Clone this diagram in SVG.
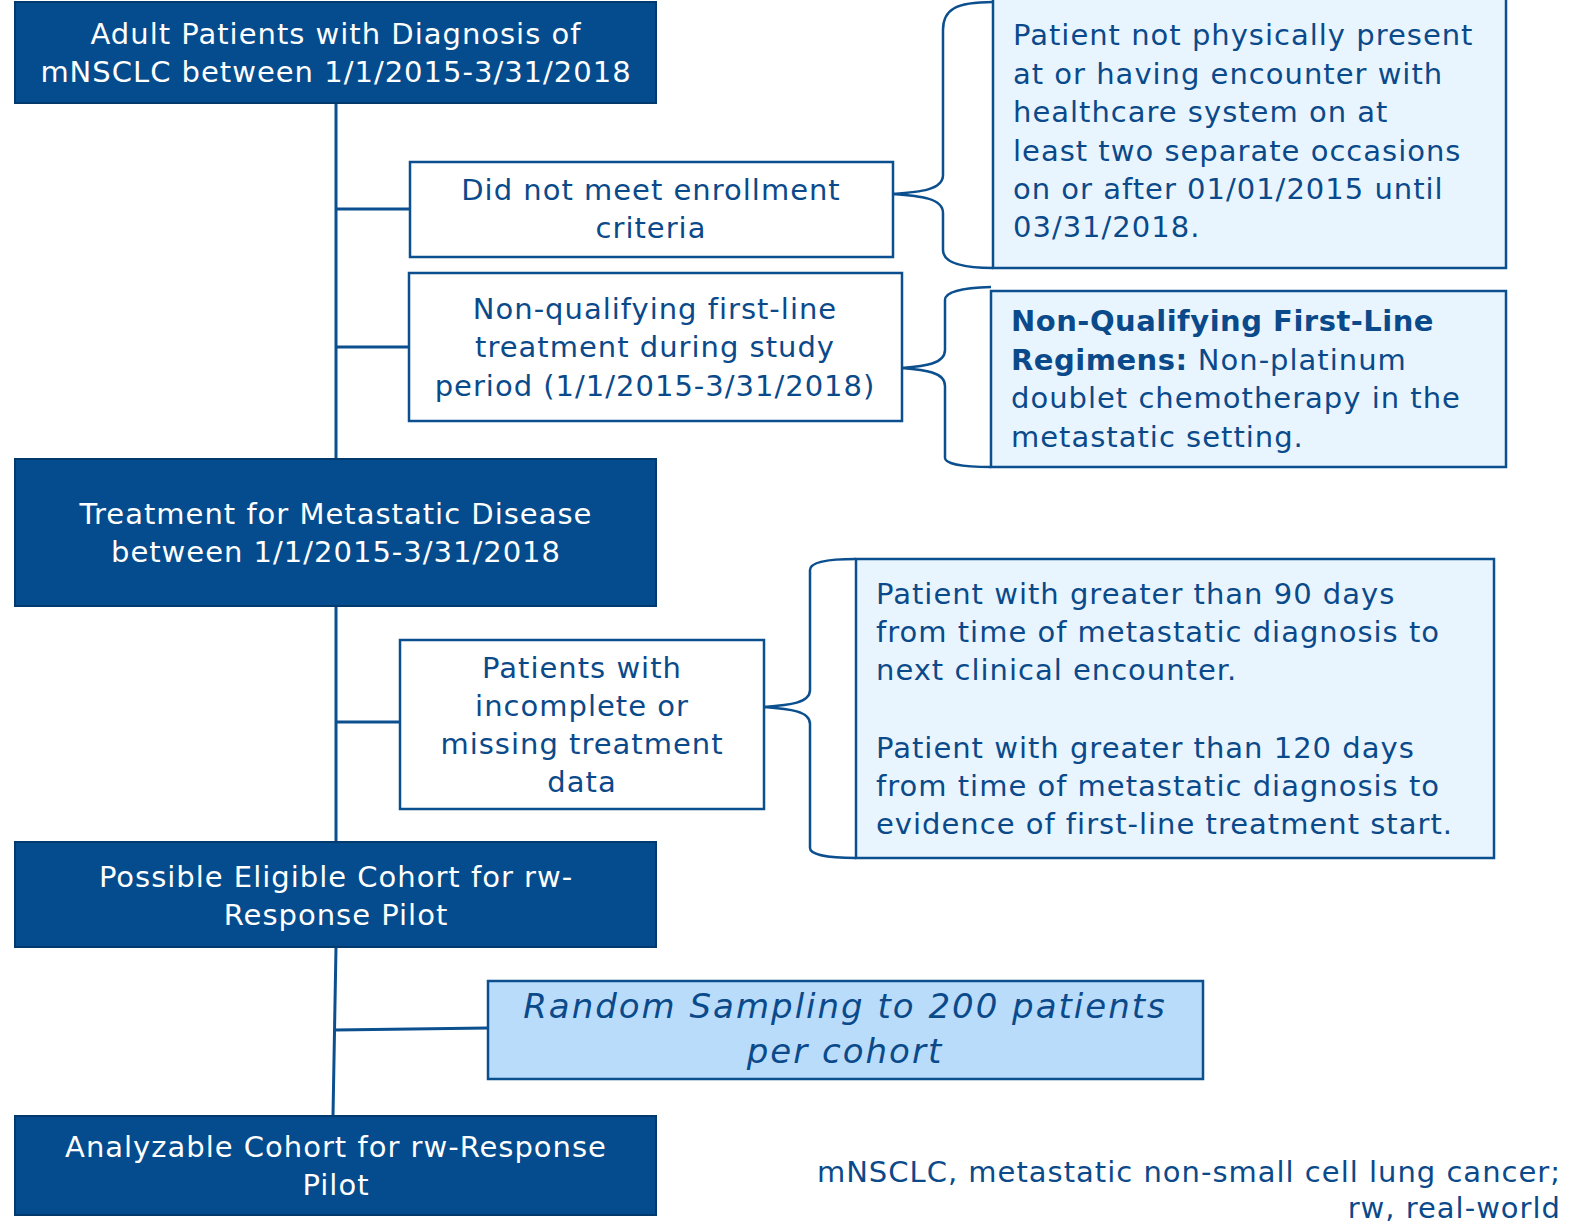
<svg xmlns="http://www.w3.org/2000/svg" width="1571" height="1229" viewBox="0 0 1571 1229">
<style>
.dark{fill:#044c8e;stroke:#033a6e;stroke-width:2}
.white{fill:#ffffff;stroke:#0b4f8f;stroke-width:2.5}
.light{fill:#e9f5fe;stroke:#0b4f8f;stroke-width:2.5}
.sample{fill:#b9dcfb;stroke:#0b4f8f;stroke-width:2.5}
.line{fill:none;stroke:#0b4f8f;stroke-width:3}
.brace{fill:none;stroke:#0b4f8f;stroke-width:2.5}
text{font-family:"DejaVu Sans","Open Sans",sans-serif;font-size:29px;letter-spacing:1px;fill:#0b4a8a}
.wt{fill:#ffffff}
.c{text-anchor:middle}
.r{text-anchor:end}
.it{font-style:italic;font-size:34px;letter-spacing:2px}
.b{font-weight:bold;letter-spacing:0.5px}
</style>
<g id="connectors">
<path class="line" d="M336 103V459M336 606V842M336 947L333 1116"/>
<path class="line" d="M336 209H410M336 347H409M336 722H400M335 1030L488 1028"/>
<path class="brace" d="M893 194C920 192 943 190 943 175V30C943 10 955 2 993 2"/>
<path class="brace" d="M893 194C920 196 943 198 943 213V250C943 262 960 268 993 268"/>
<path class="brace" d="M902 368C925 366 945 364 945 350V300C945 292 960 288 991 287"/>
<path class="brace" d="M902 368C925 370 945 372 945 386V458C945 463 960 467 991 467"/>
<path class="brace" d="M764 707C790 705 810 703 810 690V570C810 563 825 559 856 559"/>
<path class="brace" d="M764 707C790 709 810 711 810 724V848C810 854 825 858 856 858"/>
</g>
<g id="n1"><rect class="dark" x="15" y="2" width="641" height="101"/>
<text class="wt c" x="336" y="44">Adult Patients with Diagnosis of</text>
<text class="wt c" x="336" y="82">mNSCLC between 1/1/2015-3/31/2018</text></g>
<g id="n2"><rect class="white" x="410" y="162" width="483" height="95"/>
<text class="c" x="651" y="200">Did not meet enrollment</text>
<text class="c" x="651" y="238">criteria</text></g>
<g id="n3"><rect class="white" x="409" y="273" width="493" height="148"/>
<text class="c" x="655" y="319">Non-qualifying first-line</text>
<text class="c" x="655" y="357">treatment during study</text>
<text class="c" x="655" y="396">period (1/1/2015-3/31/2018)</text></g>
<g id="n4"><rect class="light" x="993" y="-2" width="513" height="270"/>
<text x="1013" y="45">Patient not physically present</text>
<text x="1013" y="84">at or having encounter with</text>
<text x="1013" y="122">healthcare system on at</text>
<text x="1013" y="161">least two separate occasions</text>
<text x="1013" y="199">on or after 01/01/2015 until</text>
<text x="1013" y="237">03/31/2018.</text></g>
<g id="n5"><rect class="light" x="991" y="291" width="515" height="176"/>
<text class="b" x="1011" y="331">Non-Qualifying First-Line</text>
<text x="1011" y="370"><tspan class="b">Regimens:</tspan> Non-platinum</text>
<text x="1011" y="408">doublet chemotherapy in the</text>
<text x="1011" y="447">metastatic setting.</text></g>
<g id="n6"><rect class="dark" x="15" y="459" width="641" height="147"/>
<text class="wt c" x="336" y="524">Treatment for Metastatic Disease</text>
<text class="wt c" x="336" y="562">between 1/1/2015-3/31/2018</text></g>
<g id="n7"><rect class="white" x="400" y="640" width="364" height="169"/>
<text class="c" x="582" y="678">Patients with</text>
<text class="c" x="582" y="716">incomplete or</text>
<text class="c" x="582" y="754">missing treatment</text>
<text class="c" x="582" y="792">data</text></g>
<g id="n8"><rect class="light" x="856" y="559" width="638" height="299"/>
<text x="876" y="604">Patient with greater than 90 days</text>
<text x="876" y="642">from time of metastatic diagnosis to</text>
<text x="876" y="680">next clinical encounter.</text>
<text x="876" y="758">Patient with greater than 120 days</text>
<text x="876" y="796">from time of metastatic diagnosis to</text>
<text x="876" y="834">evidence of first-line treatment start.</text></g>
<g id="n9"><rect class="dark" x="15" y="842" width="641" height="105"/>
<text class="wt c" x="336" y="887">Possible Eligible Cohort for rw-</text>
<text class="wt c" x="336" y="925">Response Pilot</text></g>
<g id="n10"><rect class="sample" x="488" y="981" width="715" height="98"/>
<text class="c it" x="845" y="1018">Random Sampling to 200 patients</text>
<text class="c it" x="845" y="1063">per cohort</text></g>
<g id="n11"><rect class="dark" x="15" y="1116" width="641" height="99"/>
<text class="wt c" x="336" y="1157">Analyzable Cohort for rw-Response</text>
<text class="wt c" x="336" y="1195">Pilot</text></g>
<g id="footnote">
<text class="r" x="1561" y="1182">mNSCLC, metastatic non-small cell lung cancer;</text>
<text class="r" x="1561" y="1218">rw, real-world</text></g>
</svg>
